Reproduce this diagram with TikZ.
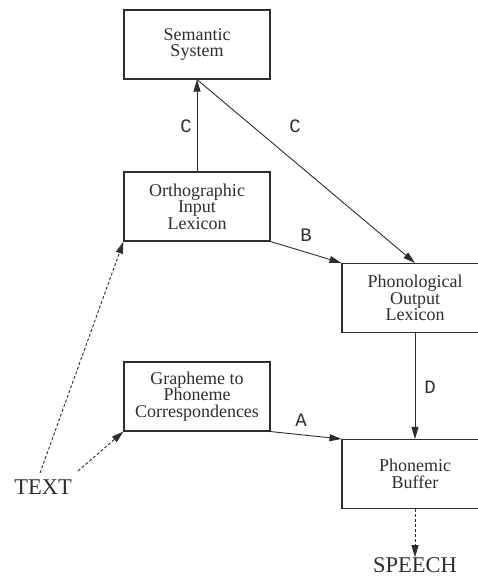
\documentclass[tikz,border=0pt]{standalone}
\usepackage{fontspec}
\setmainfont{Liberation Serif}
\newfontfamily\labelfont{Liberation Mono}
\usetikzlibrary{arrows.meta}
\definecolor{ink}{HTML}{2E2E2E}
\begin{document}
\begin{tikzpicture}[x=1pt,y=-1pt,
  module/.style={draw=ink, line width=1.1pt, minimum width=146pt, minimum height=69pt,
    inner sep=0pt, align=center, text=ink,
    font=\rmfamily\fontsize{18}{16.5}\selectfont},
  outer/.style={text=ink, font=\rmfamily\fontsize{22.5}{24}\selectfont, inner sep=0pt},
  route/.style={draw=ink, line width=0.9pt, -{Triangle[length=12pt,width=7pt]}},
  rawroute/.style={route, dash pattern=on 3pt off 2pt},
  tag/.style={text=ink, font=\labelfont\fontsize{19}{19}\selectfont, inner sep=0pt}]
  \useasboundingbox (0,0) rectangle (478,578);
  \fill[white] (0,0) rectangle (478,578);

  % processing modules
  \node[module] (sem) at (197,44.5) {Semantic\\System};
  \node[module] (oil) at (197,206.5) {Orthographic\\Input\\Lexicon};
  \node[module] (pol) at (415,298) {Phonological\\Output\\Lexicon};
  \node[module] (gpc) at (197,396.5) {Grapheme to\\Phoneme\\Correspondences};
  \node[module] (pb)  at (415,474) {Phonemic\\Buffer};

  % input and output
  \node[outer] (text)   at (43,487) {TEXT};
  \node[outer] (speech) at (415,565) {SPEECH};
  \coordinate (t1) at (40,473);
  \coordinate (t2) at (78,471);

  % lexical and sublexical routes
  \draw[route] (oil.north) -- (sem.south);
  \draw[route] (sem.south) -- (pol.north);
  \draw[route] (oil.south east) -- (pol.north west);
  \draw[route] (gpc.south east) -- (pb.north west);
  \draw[route] (pol.south) -- (pb.north);
  \draw[rawroute] (t1) -- (oil.south west);
  \draw[rawroute] (t2) -- (gpc.south west);
  \draw[rawroute] (pb.south) -- (speech.north);

  % route labels
  \node[tag] (lc1) at (186,126) {C};
  \node[tag] (lc2) at (295,126) {C};
  \node[tag] (lb)  at (306,235) {B};
  \node[tag] (la)  at (301,420) {A};
  \node[tag] (ld)  at (430,387) {D};
\end{tikzpicture}
\end{document}
